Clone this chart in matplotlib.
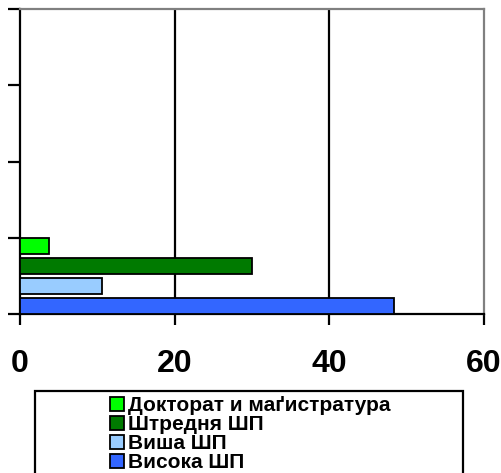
import numpy as np
import matplotlib
matplotlib.use('Agg')
import matplotlib.pyplot as plt
from matplotlib.patches import Patch, Rectangle

plt.rcParams['font.family'] = ['Liberation Sans', 'DejaVu Sans']

# chart data (only the first group has values)
groups = ['', '', '', '']
series = ['Висока ШП', 'Виша ШП', 'Штредня ШП', 'Докторат и маґистратура']
colors = ['#3366FF', '#99CCFF', '#007A00', '#00FF00']
vysoka = [48.4, np.nan, np.nan, np.nan]
visha = [10.6, np.nan, np.nan, np.nan]
shtrednja = [30.0, np.nan, np.nan, np.nan]
doktorat = [3.8, np.nan, np.nan, np.nan]
values = [vysoka, visha, shtrednja, doktorat]
xticks = [0, 20, 40, 60]

W, H = 501, 473
fig = plt.figure(figsize=(W / 100, H / 100), dpi=100)
ax = fig.add_axes([20 / W, 1 - 314 / H, 464 / W, 305 / H])

pos = np.arange(len(groups)) + 0.5
slot = 20 / 76
bar_h = 16 / 76
for i, (name, vals, c) in enumerate(zip(series, values, colors)):
    ax.barh(pos + (i - 1.5) * slot, vals, height=bar_h, color=c,
            edgecolor='black', linewidth=1.3, zorder=3)

ax.set_xlim(0, 60)
ax.set_ylim(0, len(groups))
ax.set_xticks(xticks)
ax.set_xticklabels([str(t) for t in xticks], fontsize=23, fontweight='bold')
ax.set_yticks(np.arange(len(groups) + 1))
ax.set_yticklabels([])
ax.tick_params(axis='x', direction='out', length=8, width=1.6, pad=17)
ax.tick_params(axis='y', direction='out', length=9, width=1.6)
for xv in xticks[1:-1]:
    ax.axvline(xv, color='black', lw=1.6, zorder=1)
ax.spines['left'].set_linewidth(1.6)
ax.spines['bottom'].set_linewidth(1.6)
ax.spines['top'].set_color('#808080')
ax.spines['right'].set_color('#808080')
ax.spines['top'].set_linewidth(1.6)
ax.spines['right'].set_linewidth(1.6)

# legend box, running off the bottom of the figure
fig.patches.append(Rectangle((35 / W, -10 / H), 428 / W, (H - 391 + 10) / H,
                             transform=fig.transFigure, fill=False,
                             edgecolor='black', lw=1.6))
handles = [Patch(facecolor=c, edgecolor='black', linewidth=1.3) for c in colors]
fig.legend(handles[::-1], series[::-1], loc='upper center',
           bbox_to_anchor=(250 / W, 1 - 396 / H), frameon=False,
           prop={'weight': 'bold', 'size': 15}, labelspacing=0.0,
           handlelength=0.68, handleheight=0.68, handletextpad=0.2,
           borderpad=0, borderaxespad=0)

fig.savefig('out.png', dpi=100)
